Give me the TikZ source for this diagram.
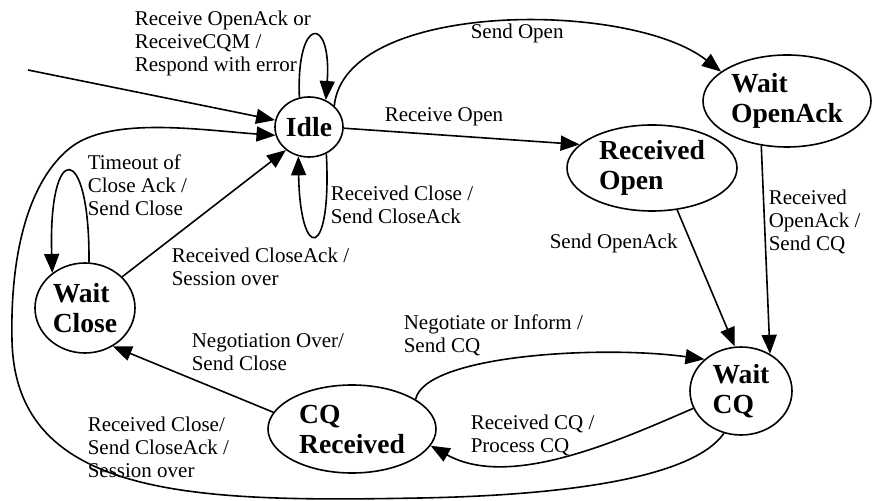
\documentclass[tikz,border=0pt]{standalone}
\usepackage{fontspec}
\setmainfont{Liberation Serif}
\usetikzlibrary{shapes.geometric, arrows.meta}

\begin{document}
\begin{tikzpicture}[x=0.5pt, y=-0.5pt, line width=0.8pt,
		>={Triangle[length=9.5pt,width=7.5pt]},
		state/.style={draw, ellipse, inner sep=0pt, align=left, font=\fontsize{13.8}{15}\selectfont\bfseries},
		lbl/.style={anchor=west, align=left, inner sep=0pt, font=\fontsize{10.5}{11.5}\selectfont}]
		\useasboundingbox (0,0) rectangle (872,501);

		\node[state, minimum width=34pt, minimum height=30pt] (idle) at (309,127) {Idle};
		\node[state, minimum width=84pt, minimum height=46pt] (waitoa) at (787,101) {Wait\\OpenAck};
		\node[state, minimum width=85pt, minimum height=43pt] (recvopen) at (652,168) {Received\\Open};
		\node[state, minimum width=50pt, minimum height=45pt] (waitclose) at (85,308) {Wait\\Close};
		\node[state, minimum width=84pt, minimum height=44pt] (cqrecv) at (352,429) {CQ\\Received};
		\node[state, minimum width=51pt, minimum height=44pt] (waitcq) at (741,391) {Wait\\CQ};
		\coordinate (start) at (28,70);

		% labels
		\node[lbl] (l1) at (134,43) {Receive OpenAck or\\ReceiveCQM /\\Respond with error};
		\node[lbl] (l2) at (87,185) {Timeout of\\Close Ack /\\Send Close};
		\node[lbl] (l3) at (330,205) {Received Close /\\Send CloseAck};
		\node[lbl] (l4) at (171,267) {Received CloseAck /\\Session over};
		\node[lbl] (l5) at (191,352) {Negotiation Over/\\Send Close};
		\node[lbl] (l6) at (87,447) {Received Close/\\Send CloseAck /\\Session over};
		\node[lbl] (l7) at (403,335) {Negotiate or Inform /\\Send CQ};
		\node[lbl] (l8) at (470,435) {Received CQ /\\Process CQ};
		\node[lbl] (l9) at (768,222) {Received\\OpenAck /\\Send CQ};
		\node[lbl] (l10) at (549,243) {Send OpenAck};
		\node[lbl] (l11) at (384,117) {Receive Open};
		\node[lbl] (l12) at (470,33) {Send Open};

		\draw[->] (start) -- (idle);
		\draw[->] (idle.108) .. controls (296,15) and (332,15) .. (idle.58);
		\draw[->] (idle.-57) .. controls (332,262) and (300,262) .. (idle.-110);
		\draw[->] (idle.40) .. controls (345,0) and (630,0) .. (waitoa.156);
		\draw[->] (idle.-2) -- (recvopen.162);
		\draw[->] (waitoa.-120) -- (waitcq.52);
		\draw[->] (recvopen.-59) -- (waitcq.98);
		\draw[->] (waitcq.-112) .. controls (695,475) and (580,495) .. (420,498)
			.. controls (200,502) and (15,500) .. (12,340)
			.. controls (10,250) and (30,180) .. (70,148)
			.. controls (110,116) and (200,130) .. (idle.194);
		\draw[->] (waitcq.200) .. controls (620,440) and (510,490) .. (cqrecv.-12);
		\draw[->] (cqrecv.25) .. controls (425,355) and (600,345) .. (waitcq.139);
		\draw[->] (cqrecv.168) -- (waitclose.-54);
		\draw[->] (waitclose.40) -- (idle.-135);
		\draw[->] (waitclose.85) .. controls (90,140) and (48,140) .. (waitclose.133);
	\end{tikzpicture}
\end{document}
